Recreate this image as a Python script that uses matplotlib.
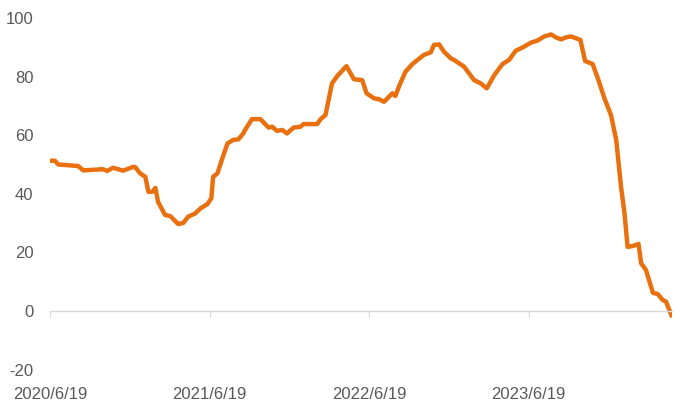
import matplotlib
matplotlib.use("Agg")
import matplotlib.pyplot as plt
import pandas as pd

plt.rcParams["font.family"] = ["Liberation Sans", "DejaVu Sans"]
plt.rcParams["axes.unicode_minus"] = False

dates = [
    "2020-06-19", "2020-06-30", "2020-07-08", "2020-07-27", "2020-08-22", "2020-09-03",
    "2020-10-18", "2020-10-28", "2020-11-10", "2020-12-03", "2020-12-26", "2020-12-31",
    "2021-01-11", "2021-01-23", "2021-01-30", "2021-02-08", "2021-02-15", "2021-02-21",
    "2021-03-09", "2021-03-21", "2021-04-08", "2021-04-20", "2021-05-01", "2021-05-17",
    "2021-05-29", "2021-06-14", "2021-06-23", "2021-06-27", "2021-07-07", "2021-07-18",
    "2021-07-30", "2021-08-12", "2021-08-24", "2021-09-04", "2021-09-08", "2021-09-24",
    "2021-10-13", "2021-11-01", "2021-11-09", "2021-11-20", "2021-12-02", "2021-12-13",
    "2021-12-28", "2022-01-13", "2022-01-20", "2022-02-20", "2022-02-28", "2022-03-11",
    "2022-03-26", "2022-04-07", "2022-04-28", "2022-05-15", "2022-06-03", "2022-06-13",
    "2022-06-30", "2022-07-11", "2022-07-23", "2022-08-03", "2022-08-11", "2022-08-18",
    "2022-08-26", "2022-09-10", "2022-09-26", "2022-10-22", "2022-11-07", "2022-11-14",
    "2022-11-26", "2022-12-07", "2022-12-23", "2022-12-30", "2023-01-22", "2023-02-14",
    "2023-03-01", "2023-03-15", "2023-04-01", "2023-04-20", "2023-05-05", "2023-05-20",
    "2023-06-08", "2023-06-24", "2023-07-09", "2023-07-24", "2023-08-09", "2023-08-20",
    "2023-09-01", "2023-09-12", "2023-09-23", "2023-10-05", "2023-10-15", "2023-10-26",
    "2023-11-12", "2023-11-24", "2023-12-09", "2023-12-24", "2024-01-05", "2024-01-16",
    "2024-01-24", "2024-01-31", "2024-02-12", "2024-02-25", "2024-03-02", "2024-03-13",
    "2024-03-29", "2024-04-09", "2024-04-20", "2024-04-28", "2024-05-10",
]
values = [
    51.3, 51.3, 50.0, 49.8, 49.5, 48.0,
    48.4, 47.8, 48.9, 47.9, 49.2, 49.1,
    47.0, 45.8, 40.7, 40.7, 42.0, 37.3,
    32.8, 32.4, 29.7, 30.1, 32.2, 33.3,
    35.0, 36.5, 38.5, 45.8, 47.0, 52.1,
    57.2, 58.4, 58.6, 60.6, 61.8, 65.5,
    65.5, 62.6, 62.9, 61.5, 61.8, 60.6,
    62.6, 62.9, 63.8, 63.8, 65.5, 66.9,
    77.7, 80.2, 83.6, 79.1, 78.8, 74.3,
    72.6, 72.3, 71.4, 73.1, 74.3, 73.4,
    76.6, 81.7, 84.3, 87.4, 88.3, 90.8,
    91.0, 88.5, 86.2, 85.7, 83.4, 78.8,
    77.7, 76.0, 80.5, 84.3, 85.7, 88.8,
    90.2, 91.6, 92.3, 93.7, 94.4, 93.4,
    92.7, 93.4, 93.7, 93.1, 92.5, 85.3,
    84.3, 79.4, 72.6, 66.9, 58.4, 42.4,
    33.3, 21.9, 22.2, 22.9, 16.3, 14.0,
    6.2, 5.8, 3.8, 3.2, -1.4,
]
tick_dates = ["2020-06-19", "2021-06-19", "2022-06-19", "2023-06-19"]
tick_labels = ["2020/6/19", "2021/6/19", "2022/6/19", "2023/6/19"]
y_ticks = [-20, 0, 20, 40, 60, 80, 100]

x = pd.to_datetime(dates)

fig = plt.figure(figsize=(6.89, 4.13), dpi=100)
ax = fig.add_axes([0.0726, 0.105, 0.903, 0.8514])

ax.plot(x, values, color="#E8700F", linewidth=3.2, solid_joinstyle="round")

ax.set_ylim(-20, 100)
ax.set_yticks(y_ticks)
ax.set_xlim(pd.Timestamp("2020-06-19"), pd.Timestamp("2024-05-12"))
ax.set_xticks(pd.to_datetime(tick_dates))
ax.set_xticklabels(tick_labels)

for s in ["top", "right", "left"]:
    ax.spines[s].set_visible(False)
ax.spines["bottom"].set_position(("data", 0))
ax.spines["bottom"].set_color("#d9d9d9")
ax.spines["bottom"].set_linewidth(1.0)

ax.tick_params(axis="y", length=0, pad=12, labelsize=12, labelcolor="#595959")
ax.tick_params(axis="x", direction="out", length=4, color="#d9d9d9",
               pad=51, labelsize=12, labelcolor="#595959")

fig.savefig("out.png", dpi=100)
